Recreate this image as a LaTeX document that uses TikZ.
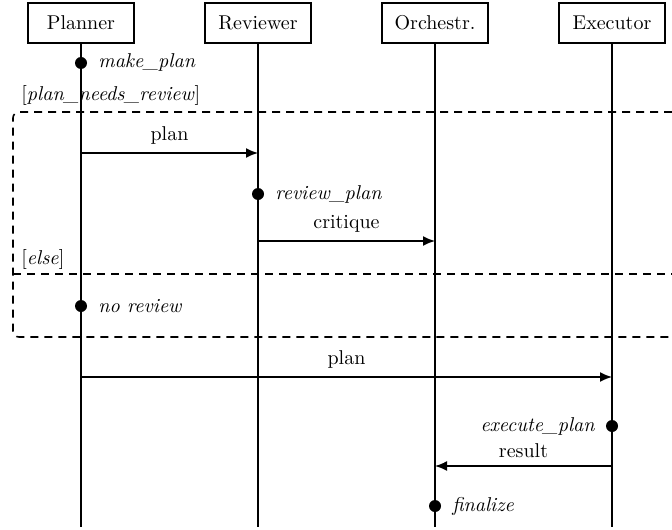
\documentclass[tikz,border=0pt]{standalone}
\usetikzlibrary{arrows.meta}
\begin{document}
\begin{tikzpicture}[x=0.5pt,y=-0.5pt,
  actor/.style={draw, line width=0.8pt, minimum width=53pt, minimum height=20pt, inner sep=0pt, fill=white},
  life/.style={line width=0.8pt},
  msg/.style={line width=0.8pt, -{Latex[length=6pt,width=5pt]}},
  evdot/.style={circle, fill=black, inner sep=0pt, minimum size=6pt},
  evlabel/.style={font=\itshape, inner sep=1pt},
  guard/.style={inner sep=1pt},
  frame/.style={line width=0.8pt, dash pattern=on 4pt off 3pt, rounded corners=3pt},
  msglabel/.style={above=0.5pt}
]
\useasboundingbox (0,0) rectangle (672,529);
\clip (0,0) rectangle (672,529);

% actors
\node[actor] (P) at (81,23) {Planner};
\node[actor] (R) at (258,23) {Reviewer};
\node[actor] (O) at (435,23) {Orchestr.};
\node[actor] (E) at (612,23) {Executor};

\coordinate (Pend) at (81,527);
\coordinate (Rend) at (258,527);
\coordinate (Oend) at (435,527);
\coordinate (Eend) at (612,527);

% alt frame
\draw[frame] (700,112) -- (13,112) -- (13,337) -- (700,337);
\draw[frame] (13,274) -- (700,274);
\node[guard, anchor=west] (g1) at (19,96) {[\textit{plan\_needs\_review}]};
\node[guard, anchor=west] (g2) at (19,259) {[\textit{else}]};

% lifelines
\draw[life] (P.south) -- (Pend);
\draw[life] (R.south) -- (Rend);
\draw[life] (O.south) -- (Oend);
\draw[life] (E.south) -- (Eend);

% events
\node[evdot] (d1) at (81,63) {};
\node[evlabel, anchor=west] (l1) at (96,63) {make\_plan};
\node[evdot] (d2) at (258,194) {};
\node[evlabel, anchor=west] (l2) at (273,194) {review\_plan};
\node[evdot] (d3) at (81,306) {};
\node[evlabel, anchor=west] (l3) at (96,306) {no review};
\node[evdot] (d4) at (612,426) {};
\node[evlabel, anchor=east] (l4) at (597,426) {execute\_plan};
\node[evdot] (d5) at (435,506) {};
\node[evlabel, anchor=west] (l5) at (450,506) {finalize};

% message endpoints
\coordinate (m1a) at (81,153);
\coordinate (m1b) at (258,153);
\coordinate (m2a) at (258,241);
\coordinate (m2b) at (435,241);
\coordinate (m3a) at (81,377);
\coordinate (m3b) at (612,377);
\coordinate (m4a) at (612,466);
\coordinate (m4b) at (435,466);

\draw[msg] (m1a) -- node[msglabel] (t1) {plan} (m1b);
\draw[msg] (m2a) -- node[msglabel] (t2) {critique} (m2b);
\draw[msg] (m3a) -- node[msglabel] (t3) {plan} (m3b);
\draw[msg] (m4a) -- node[msglabel] (t4) {result} (m4b);
\end{tikzpicture}
\end{document}
